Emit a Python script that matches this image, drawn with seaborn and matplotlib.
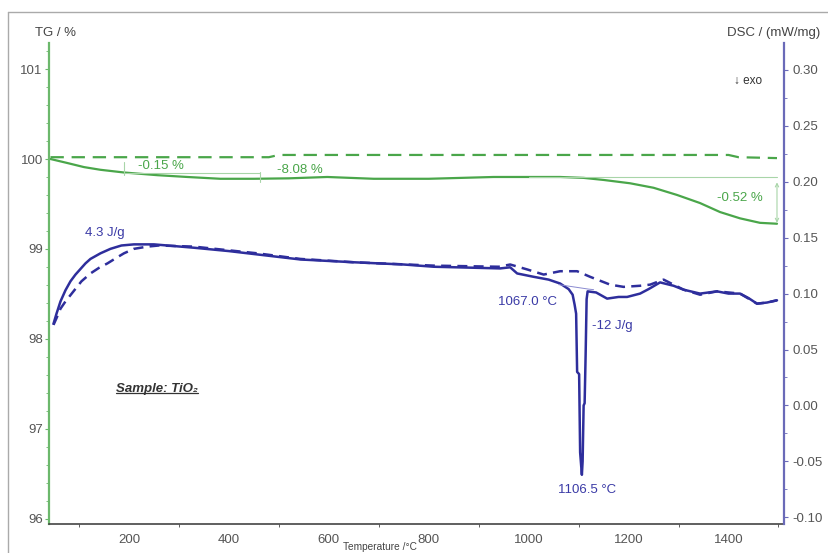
import matplotlib
matplotlib.use("Agg")
import matplotlib.pyplot as plt
from matplotlib.lines import Line2D
from matplotlib.ticker import MultipleLocator
import seaborn as sns

# ==========================================
# DATA (TiO2 sample)
# ==========================================
tg_heat_t = [43, 77, 110, 143, 190, 257, 317, 383, 450, 520, 597, 690, 800, 930,
             1000, 1063, 1110, 1150, 1203, 1250, 1297, 1343, 1383, 1423, 1463, 1497]
tg_heat = [100.0, 99.955, 99.91, 99.88, 99.85, 99.82, 99.80, 99.78, 99.78, 99.785,
           99.80, 99.78, 99.78, 99.80, 99.80, 99.80, 99.79, 99.767, 99.73, 99.68,
           99.60, 99.51, 99.41, 99.34, 99.29, 99.28]

tg_ref_t = [43, 200, 400, 480, 500, 800, 1100, 1400, 1420, 1497]
tg_ref = [100.02, 100.02, 100.02, 100.02, 100.045, 100.045, 100.045, 100.045, 100.02, 100.01]

dsc_heat_t = [49, 55, 63, 73, 83, 93, 103, 113, 123, 143, 163, 185, 210, 250, 330, 400,
              457, 543, 650, 750, 810, 900, 943, 963, 977, 1010, 1040, 1063, 1080, 1088,
              1092, 1095, 1097, 1101, 1103, 1106.5, 1108, 1110, 1112, 1114, 1116, 1118,
              1135, 1157, 1180, 1197, 1223, 1240, 1263, 1290, 1310, 1343, 1377, 1400,
              1423, 1440, 1457, 1477, 1497]
dsc_heat = [0.073, 0.082, 0.093, 0.103, 0.111, 0.117, 0.122, 0.127, 0.131, 0.136, 0.140,
            0.143, 0.144, 0.144, 0.141, 0.138, 0.135, 0.1305, 0.128, 0.126, 0.124, 0.123,
            0.1225, 0.1235, 0.118, 0.115, 0.1125, 0.109, 0.104, 0.099, 0.090, 0.082, 0.030,
            0.028, -0.042, -0.062, -0.050, 0.000, 0.002, 0.045, 0.095, 0.102, 0.101,
            0.0955, 0.097, 0.097, 0.100, 0.104, 0.110, 0.107, 0.1035, 0.100, 0.102,
            0.100, 0.100, 0.096, 0.091, 0.092, 0.094]

dsc_ref_t = [49, 55, 63, 73, 89, 105, 123, 140, 157, 175, 190, 210, 237, 260, 330, 457,
             543, 650, 810, 940, 963, 997, 1030, 1063, 1097, 1123, 1163, 1190, 1223,
             1243, 1270, 1290, 1310, 1343, 1377, 1423, 1457, 1477, 1497]
dsc_ref = [0.072, 0.078, 0.0865, 0.093, 0.102, 0.111, 0.118, 0.123, 0.127, 0.132, 0.136,
           0.140, 0.142, 0.143, 0.142, 0.136, 0.131, 0.128, 0.125, 0.124, 0.126, 0.1216,
           0.117, 0.120, 0.120, 0.115, 0.108, 0.106, 0.107, 0.108, 0.1125, 0.108, 0.1035,
           0.099, 0.102, 0.100, 0.091, 0.092, 0.094]

peak_base_t = [1060, 1075, 1090, 1105, 1120, 1130]
peak_base = [0.108, 0.107, 0.106, 0.105, 0.104, 0.1035]

GREEN = "#4aa64a"
GREEN_AX = "#6cb86c"
GREEN_THIN = "#a8d5a8"
BLUE = "#2e2e9c"
BLUE_AX = "#6a6ab8"
BLUE_TXT = "#3a3aa6"
GRAY = "#555555"

sns.set_style("white")
plt.rcParams["font.family"] = ["Liberation Sans", "DejaVu Sans"]
plt.rcParams["font.size"] = 9.5

fig = plt.figure(figsize=(8.29, 5.53), dpi=100)
ax = fig.add_axes([0.0591, 0.0524, 0.8866, 0.8698])
ax2 = ax.twinx()

# TG curves
sns.lineplot(x=tg_heat_t, y=tg_heat, ax=ax, color=GREEN, lw=1.6, sort=False, estimator=None)
sns.lineplot(x=tg_ref_t, y=tg_ref, ax=ax, color=GREEN, lw=1.6, sort=False, estimator=None,
             linestyle=(0, (6, 3.5)))

# DSC curves
sns.lineplot(x=dsc_heat_t, y=dsc_heat, ax=ax2, color=BLUE, lw=1.8, sort=False, estimator=None)
sns.lineplot(x=dsc_ref_t, y=dsc_ref, ax=ax2, color=BLUE, lw=1.8, sort=False, estimator=None,
             linestyle=(0, (4, 2.5)))
sns.lineplot(x=peak_base_t, y=peak_base, ax=ax2, color="#8a8ad0", lw=0.7, sort=False, estimator=None)

# TG step evaluation marks
ax.plot([190, 190], [99.97, 99.82], color=GREEN_THIN, lw=0.8)
ax.plot([190, 463], [99.845, 99.845], color=GREEN_THIN, lw=0.8)
ax.plot([463, 463], [99.855, 99.745], color=GREEN_THIN, lw=0.8)
ax.plot([1000, 1497], [99.80, 99.80], color=GREEN_THIN, lw=0.8)
ax.annotate("", xy=(1497, 99.29), xytext=(1497, 99.74),
            arrowprops=dict(arrowstyle="<->", color=GREEN_THIN, lw=0.8,
                            shrinkA=0, shrinkB=0, mutation_scale=6))

ax.set_xlim(40, 1511)
ax.set_ylim(95.94, 101.29)
ax2.set_ylim(-0.106, 0.324)

ax.set_yticks([96, 97, 98, 99, 100, 101])
ax.yaxis.set_minor_locator(MultipleLocator(0.2))
ax.xaxis.set_major_locator(MultipleLocator(200))
ax.xaxis.set_minor_locator(MultipleLocator(100))
ax.set_xticks([200, 400, 600, 800, 1000, 1200, 1400])
ax2.set_yticks([-0.10, -0.05, 0.0, 0.05, 0.10, 0.15, 0.20, 0.25, 0.30])
ax2.set_yticklabels(["-0.10", "-0.05", "0.00", "0.05", "0.10", "0.15", "0.20", "0.25", "0.30"])
ax2.yaxis.set_minor_locator(MultipleLocator(0.025))

for a in (ax, ax2):
    a.spines["top"].set_visible(False)
ax.spines["right"].set_visible(False)
ax2.spines["left"].set_visible(False)
ax2.spines["bottom"].set_visible(False)
ax.spines["left"].set_color(GREEN_AX)
ax.spines["left"].set_linewidth(1.6)
ax2.spines["right"].set_color(BLUE_AX)
ax2.spines["right"].set_linewidth(1.6)
ax.spines["bottom"].set_color("#444444")
ax.spines["bottom"].set_linewidth(1.2)

ax.tick_params(axis="y", which="major", length=3, color=GREEN_AX, labelcolor=GRAY, pad=1.5, labelsize=9.5)
ax.tick_params(axis="y", which="minor", length=2, color=GREEN_AX, left=True)
ax.tick_params(axis="x", which="major", length=3, color="#444444", labelcolor=GRAY, pad=4, labelsize=9.5)
ax.tick_params(axis="x", which="minor", length=2, color="#444444", bottom=True)
ax2.tick_params(axis="y", which="major", length=3, color=BLUE_AX, labelcolor=GRAY, pad=3, labelsize=9.5)
ax2.tick_params(axis="y", which="minor", length=2, color=BLUE_AX, right=True)
ax.set_xlabel("")
ax.set_ylabel("")
ax2.set_ylabel("")

# axis titles
fig.text(35 / 829, 1 - 33 / 553, "TG / %", ha="left", va="center", color="#444444", fontsize=9.5)
fig.text(727 / 829, 1 - 33 / 553, "DSC / (mW/mg)", ha="left", va="center", color="#444444", fontsize=9.5)
# the source image crops this label; keep it whole in the gap between tick labels
fig.text(380 / 829, 1 / 553, "Temperature /°C", ha="center", va="bottom", color="#444444", fontsize=7.3)

# curve annotations
ax.text(264, 99.92, "-0.15 %", color=GREEN, ha="center", va="center")
ax.text(543, 99.88, "-8.08 %", color=GREEN, ha="center", va="center")
ax.text(1423, 99.567, "-0.52 %", color=GREEN, ha="center", va="center")
ax2.text(151, 0.154, "4.3 J/g", color=BLUE_TXT, ha="center", va="center")
ax2.text(997, 0.0928, "1067.0 °C", color=BLUE_TXT, ha="center", va="center")
ax2.text(1167, 0.0713, "-12 J/g", color=BLUE_TXT, ha="center", va="center")
ax2.text(1117, -0.076, "1106.5 °C", color=BLUE_TXT, ha="center", va="center")
ax2.text(1440, 0.290, "↓ exo", color="#333333", ha="center", va="center", fontsize=8.5)
sample = ax2.text(257, 0.0147, "Sample: TiO₂", color="#333333", ha="center", va="center",
                  fontsize=9.5, fontweight="bold", fontstyle="italic")

# underline the sample label
fig.canvas.draw()
bb = sample.get_window_extent().transformed(fig.transFigure.inverted())
fig.add_artist(Line2D([bb.x0, bb.x1], [bb.y0 + 0.004, bb.y0 + 0.004],
                      color="#333333", lw=0.9, transform=fig.transFigure))

# outer frame of the exported image
fig.add_artist(Line2D([8 / 829, 1], [1 - 12 / 553, 1 - 12 / 553], color="#aaaaaa", lw=1,
                      transform=fig.transFigure))
fig.add_artist(Line2D([8 / 829, 8 / 829], [0, 1 - 12 / 553], color="#aaaaaa", lw=1,
                      transform=fig.transFigure))

fig.savefig("out.png", dpi=100)
